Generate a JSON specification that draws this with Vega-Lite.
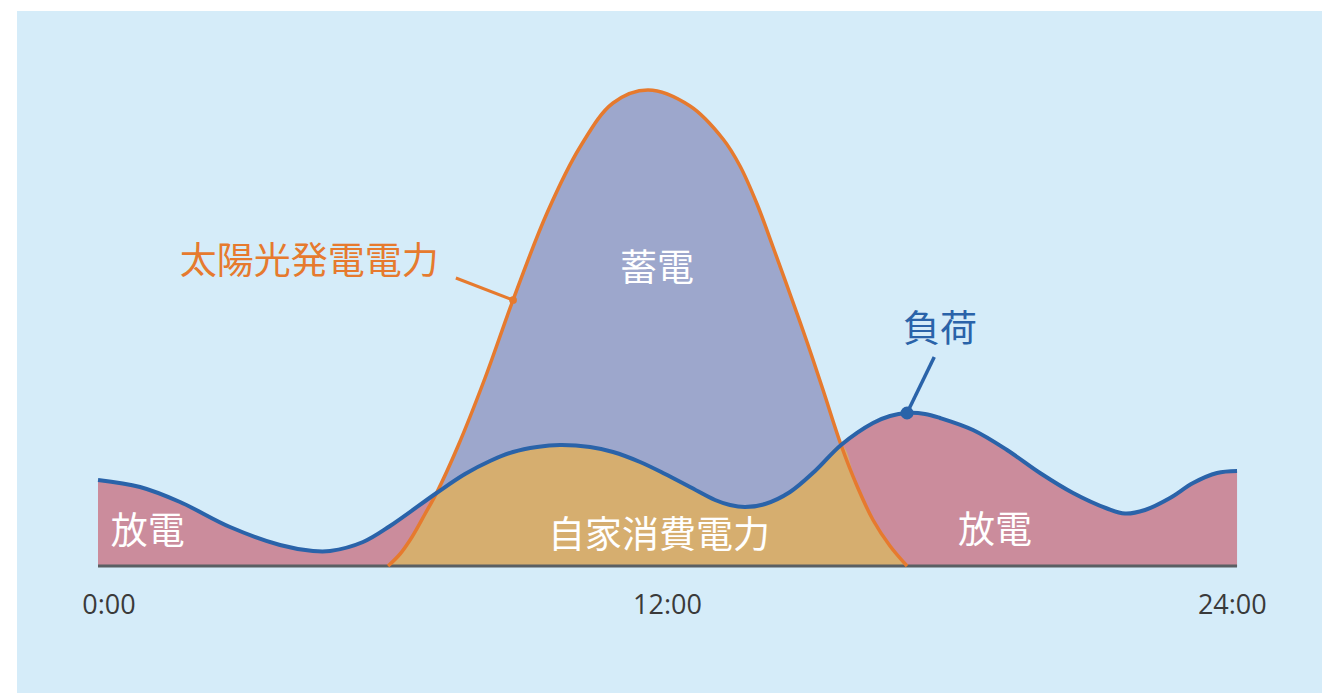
{
  "$schema": "https://vega.github.io/schema/vega-lite/v6.json",
  "width": 1305,
  "height": 682,
  "autosize": "none",
  "padding": {"left": 17, "top": 11, "right": 0, "bottom": 0},
  "background": "#ffffff",
  "view": {"fill": "#d5ecf9", "stroke": null},
  "datasets": {
    "load": [
      {"h": 0, "v": 0.86}, {"h": 0.885, "v": 0.79}, {"h": 1.728, "v": 0.64}, {"h": 2.781, "v": 0.39},
      {"h": 3.835, "v": 0.21}, {"h": 4.53, "v": 0.15}, {"h": 4.889, "v": 0.15}, {"h": 5.584, "v": 0.24},
      {"h": 6.153, "v": 0.4}, {"h": 7.133, "v": 0.73}, {"h": 7.733, "v": 0.92}, {"h": 8.26, "v": 1.05},
      {"h": 8.745, "v": 1.14}, {"h": 9.25, "v": 1.19}, {"h": 9.735, "v": 1.21}, {"h": 10.367, "v": 1.19},
      {"h": 10.852, "v": 1.14}, {"h": 11.421, "v": 1.04}, {"h": 11.948, "v": 0.92}, {"h": 12.474, "v": 0.79},
      {"h": 13.001, "v": 0.66}, {"h": 13.317, "v": 0.61}, {"h": 13.633, "v": 0.59}, {"h": 14.055, "v": 0.62},
      {"h": 14.581, "v": 0.74}, {"h": 15.108, "v": 0.95}, {"h": 15.656, "v": 1.21}, {"h": 16.33, "v": 1.43},
      {"h": 16.688, "v": 1.5}, {"h": 17.047, "v": 1.53}, {"h": 17.426, "v": 1.52}, {"h": 17.742, "v": 1.48},
      {"h": 18.437, "v": 1.36}, {"h": 19.154, "v": 1.16}, {"h": 19.849, "v": 0.93}, {"h": 20.545, "v": 0.73},
      {"h": 21.261, "v": 0.575}, {"h": 21.64, "v": 0.525}, {"h": 22.061, "v": 0.56},
      {"h": 22.588, "v": 0.68}, {"h": 23.073, "v": 0.83}, {"h": 23.578, "v": 0.93}, {"h": 24, "v": 0.95}
    ],
    "solar": [
      {"h": 6.111, "v": 0}, {"h": 6.364, "v": 0.12}, {"h": 6.616, "v": 0.29}, {"h": 6.89, "v": 0.52},
      {"h": 7.133, "v": 0.73}, {"h": 7.586, "v": 1.2}, {"h": 8.155, "v": 1.88}, {"h": 8.745, "v": 2.66},
      {"h": 9.461, "v": 3.53}, {"h": 10.157, "v": 4.19}, {"h": 10.852, "v": 4.63}, {"h": 11.59, "v": 4.76},
      {"h": 12.474, "v": 4.6}, {"h": 13.169, "v": 4.27}, {"h": 13.527, "v": 4.0}, {"h": 13.886, "v": 3.62},
      {"h": 14.223, "v": 3.19}, {"h": 14.581, "v": 2.72}, {"h": 14.939, "v": 2.24}, {"h": 15.277, "v": 1.76},
      {"h": 15.656, "v": 1.21}, {"h": 15.993, "v": 0.8}, {"h": 16.33, "v": 0.46}, {"h": 16.688, "v": 0.2},
      {"h": 17.047, "v": 0}
    ],
    "selfuse": [
      {"h": 6.111, "v": 0}, {"h": 6.364, "v": 0.12}, {"h": 6.616, "v": 0.29}, {"h": 6.89, "v": 0.52},
      {"h": 7.133, "v": 0.73}, {"h": 7.733, "v": 0.92}, {"h": 8.26, "v": 1.05},
      {"h": 8.745, "v": 1.14}, {"h": 9.25, "v": 1.19}, {"h": 9.735, "v": 1.21}, {"h": 10.367, "v": 1.19},
      {"h": 10.852, "v": 1.14}, {"h": 11.421, "v": 1.04}, {"h": 11.948, "v": 0.92}, {"h": 12.474, "v": 0.79},
      {"h": 13.001, "v": 0.66}, {"h": 13.317, "v": 0.61}, {"h": 13.633, "v": 0.59}, {"h": 14.055, "v": 0.62},
      {"h": 14.581, "v": 0.74}, {"h": 15.108, "v": 0.95}, {"h": 15.656, "v": 1.21},
      {"h": 15.993, "v": 0.8}, {"h": 16.33, "v": 0.46}, {"h": 16.688, "v": 0.2}, {"h": 17.047, "v": 0}
    ],
    "baseline": [{"h0": 0, "h1": 24, "v": 0}],
    "leaders": [
      {"name": "solar", "h0": 7.54, "v0": 2.88, "h1": 8.745, "v1": 2.66},
      {"name": "load", "h0": 17.62, "v0": 2.09, "h1": 17.047, "v1": 1.53}
    ],
    "labels": [
      {"text": "放電", "h": 1.05, "v": 0.33, "kind": "white"},
      {"text": "放電", "h": 18.9, "v": 0.34, "kind": "white"},
      {"text": "自家消費電力", "h": 11.82, "v": 0.29, "kind": "white"},
      {"text": "蓄電", "h": 11.78, "v": 2.96, "kind": "white"},
      {"text": "太陽光発電電力", "h": 4.45, "v": 3.03, "kind": "solar"},
      {"text": "負荷", "h": 17.74, "v": 2.35, "kind": "load"}
    ],
    "ticks": [
      {"text": "0:00", "h": 0.23, "v": -0.4},
      {"text": "12:00", "h": 12, "v": -0.4},
      {"text": "24:00", "h": 23.9, "v": -0.4}
    ]
  },
  "encoding": {
    "x": {"field": "h", "type": "quantitative", "scale": {"domain": [-1.707, 25.79], "nice": false, "zero": false}, "axis": null},
    "y": {"field": "v", "type": "quantitative", "scale": {"domain": [-1.27, 5.55], "nice": false, "zero": false}, "axis": null}
  },
  "layer": [
    {"data": {"name": "solar"}, "mark": {"type": "area", "interpolate": "catmull-rom", "color": "#9da7cc"}, "encoding": {"y2": {"datum": 0}}},
    {"data": {"name": "load"}, "mark": {"type": "area", "interpolate": "catmull-rom", "color": "#cb8c9c"}, "encoding": {"y2": {"datum": 0}}},
    {"data": {"name": "selfuse"}, "mark": {"type": "area", "interpolate": "catmull-rom", "color": "#d6ae6f"}, "encoding": {"y2": {"datum": 0}}},
    {"data": {"name": "baseline"}, "mark": {"type": "rule", "color": "#5a5f63", "strokeWidth": 3}, "encoding": {"x": {"field": "h0", "type": "quantitative"}, "x2": {"field": "h1"}}},
    {"data": {"name": "solar"}, "mark": {"type": "line", "interpolate": "catmull-rom", "color": "#e67a2e", "strokeWidth": 3.5}, "encoding": {}},
    {"data": {"name": "load"}, "mark": {"type": "line", "interpolate": "catmull-rom", "color": "#2a63a9", "strokeWidth": 4}, "encoding": {}},
    {"data": {"name": "leaders"}, "transform": [{"filter": "datum.name === 'solar'"}], "mark": {"type": "rule", "strokeWidth": 3, "color": "#e67a2e"}, "encoding": {
      "x": {"field": "h0", "type": "quantitative"}, "y": {"field": "v0", "type": "quantitative"},
      "x2": {"field": "h1"}, "y2": {"field": "v1"}}},
    {"data": {"name": "leaders"}, "transform": [{"filter": "datum.name === 'load'"}], "mark": {"type": "rule", "strokeWidth": 3.5, "color": "#2a63a9"}, "encoding": {
      "x": {"field": "h0", "type": "quantitative"}, "y": {"field": "v0", "type": "quantitative"},
      "x2": {"field": "h1"}, "y2": {"field": "v1"}}},
    {"data": {"name": "leaders"}, "transform": [{"filter": "datum.name === 'solar'"}], "mark": {"type": "circle", "opacity": 1, "size": 60, "color": "#e67a2e"}, "encoding": {
      "x": {"field": "h1", "type": "quantitative"}, "y": {"field": "v1", "type": "quantitative"}}},
    {"data": {"name": "leaders"}, "transform": [{"filter": "datum.name === 'load'"}], "mark": {"type": "circle", "opacity": 1, "size": 170, "color": "#2a63a9"}, "encoding": {
      "x": {"field": "h1", "type": "quantitative"}, "y": {"field": "v1", "type": "quantitative"}}},
    {"data": {"name": "labels"}, "transform": [{"filter": "datum.kind === 'white'"}], "mark": {"type": "text", "font": "Noto Sans CJK JP", "fontSize": 37, "align": "center", "baseline": "middle", "color": "#ffffff"}, "encoding": {"text": {"field": "text"}}},
    {"data": {"name": "labels"}, "transform": [{"filter": "datum.kind === 'solar'"}], "mark": {"type": "text", "font": "Noto Sans CJK JP", "fontSize": 37, "align": "center", "baseline": "middle", "color": "#e67a2e"}, "encoding": {"text": {"field": "text"}}},
    {"data": {"name": "labels"}, "transform": [{"filter": "datum.kind === 'load'"}], "mark": {"type": "text", "font": "Noto Sans CJK JP", "fontSize": 37, "align": "center", "baseline": "middle", "color": "#2a63a9"}, "encoding": {"text": {"field": "text"}}},
    {"data": {"name": "ticks"}, "mark": {"type": "text", "font": "Open Sans", "fontSize": 27, "align": "center", "baseline": "middle", "color": "#3a3a3a"}, "encoding": {"text": {"field": "text"}}}
  ]
}
